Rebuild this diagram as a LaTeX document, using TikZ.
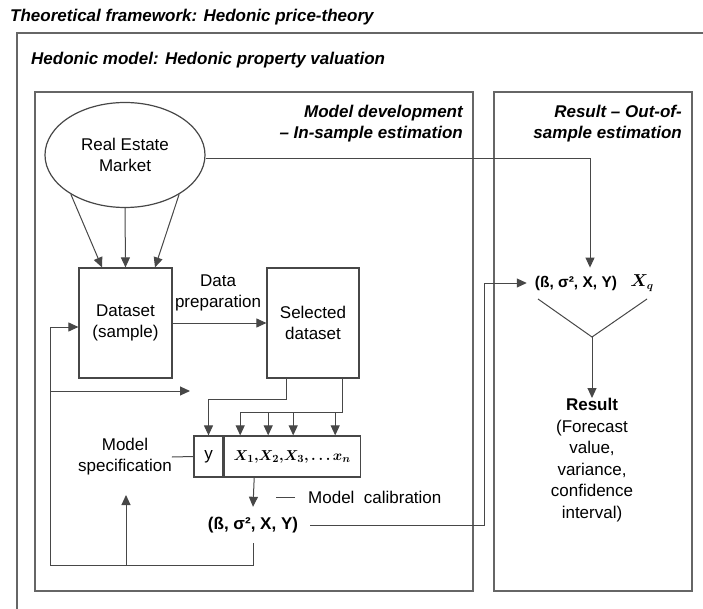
\documentclass[tikz,border=0pt]{standalone}
\usepackage{amsmath}
\usepackage{bm}
\usepackage{fontspec}
\setmainfont{Liberation Sans}
\usepackage{tikz}
\usetikzlibrary{positioning}
\usetikzlibrary{calc}
\usetikzlibrary{arrows.meta}
\usetikzlibrary{shapes.geometric}

\tikzset{
    txt/.style={font=\fontsize{17}{21}\selectfont, inner sep=0pt},
    head/.style={txt, font=\fontsize{17}{21}\selectfont\bfseries\itshape},
    frame/.style={draw=black!60, line width=1.6pt},
    conn/.style={draw=black!72, line width=1pt},
    arr/.style={conn, -{Triangle[length=10pt,width=9pt]}},
    box/.style={draw=black!72, line width=1.2pt, txt, align=center},
}

\begin{document}
\begin{tikzpicture}[x=1pt, y=-1pt]
    \useasboundingbox (0,0) rectangle (703,609);

    % frames
    \draw[frame] (17,33) rectangle (730,640);
    \draw[frame] (35,92) rectangle (473,591);
    \draw[frame] (494,92) rectangle (692,591);

    \node[head, anchor=base west] (theory) at (10,22) {Theoretical framework: Hedonic price-theory};
    \node[head, anchor=base west] (model) at (31,65) {Hedonic model: Hedonic property valuation};
    \node[head, anchor=north east, align=right] (devhead) at (463,104.5) {Model development\\– In-sample estimation};
    \node[head, anchor=north east, align=right] (reshead) at (682,104.5) {Result – Out-of-\\sample estimation};

    % in-sample
    \node[draw=black!72, line width=1.2pt, ellipse, minimum width=160pt, minimum height=105pt, txt, align=center] (market) at (125,155) {Real Estate\\Market};
    \node[box, minimum width=93pt, minimum height=110pt] (dataset) at (125.5,323) {Dataset\\(sample)};
    \node[box, minimum width=92pt, minimum height=110pt] (selected) at (313,323) {Selected\\dataset};
    \node[txt, align=center] (prep) at (218,293) {Data\\preparation};

    \node[box, minimum width=29pt, minimum height=41pt] (ybox) at (208.5,456.5) {y};
    \node[box, minimum width=136pt, minimum height=41pt, font=\fontsize{15}{19}\selectfont, right=0pt of ybox] (xbox)
        {$\bm{X_1{,}X_2{,}X_3{,}\,{\ldots}\,x_n}$};
    \node[txt, align=center] (spec) at (125,457) {Model\\specification};
    \node[txt, inner xsep=12pt, minimum height=36pt, font=\fontsize{17}{21}\selectfont\bfseries] (calib) at (253,525) {(ß, σ², X, Y)};
    \node[txt, anchor=west] (calibtxt) at (308,497) {Model\ \ calibration};

    \draw[arr] (market.216) -- ([xshift=-23.5pt]dataset.north);
    \draw[arr] (market.south) -- (dataset.north);
    \draw[arr] (market.324) -- ([xshift=29.5pt]dataset.north);
    \draw[arr] (dataset.east) -- (selected.west);

    \draw[arr] ([xshift=-27pt]selected.south) |- ([yshift=36pt]ybox.north) -- (ybox.north);
    \draw[conn] ([xshift=29pt]selected.south) |- ([xshift=-52pt,yshift=23pt]xbox.north);
    \foreach \dx in {-52,-24,1,43}
        \draw[arr] ([xshift=\dx pt,yshift=23pt]xbox.north) -- ([xshift=\dx pt]xbox.north);

    \draw[conn] (spec.east) -- (ybox.west);
    \draw[arr] ([xshift=-38pt]xbox.south) -- (calib.north);
    \draw[conn] ([xshift=-13pt]calibtxt.west) -- ([xshift=-32pt]calibtxt.west);

    % feedback loop
    \coordinate (loopcorner) at (50,565);
    \coordinate (specin) at (126,495);
    \coordinate (selin) at (190,391);
    \draw[arr] (calib.south) |- (loopcorner) |- ([yshift=-4pt]dataset.west);
    \draw[arr] (specin |- loopcorner) -- (specin);
    \draw[arr] (loopcorner |- selin) -- (selin);

    % out-of-sample
    \node[txt, inner xsep=8pt, inner ysep=8pt, font=\fontsize{15.5}{19}\selectfont\bfseries] (params) at (576,283) {(ß, σ², X, Y)};
    \node[txt, font=\fontsize{16}{21}\selectfont] (xq) at (642,283) {$\bm{X_q}$};
    \coordinate (link) at (484,0);
    \coordinate (vl) at (538,299);
    \coordinate (vm) at (592,337);
    \coordinate (vr) at (647,299);
    \node[txt, anchor=north, align=center, font=\fontsize{17}{21.6}\selectfont] (result) at (592,398)
        {\textbf{Result}\\(Forecast\\value,\\variance,\\confidence\\interval)};

    \draw[arr] ([yshift=-4pt]market.east) -| ([xshift=14pt]params.north);
    \draw[arr] (calib.east) -- (calib.east -| link) |- (params.west);
    \draw[conn] (vl) -- (vm) -- (vr);
    \draw[arr] (vm) -- (result.north);
\end{tikzpicture}
\end{document}
